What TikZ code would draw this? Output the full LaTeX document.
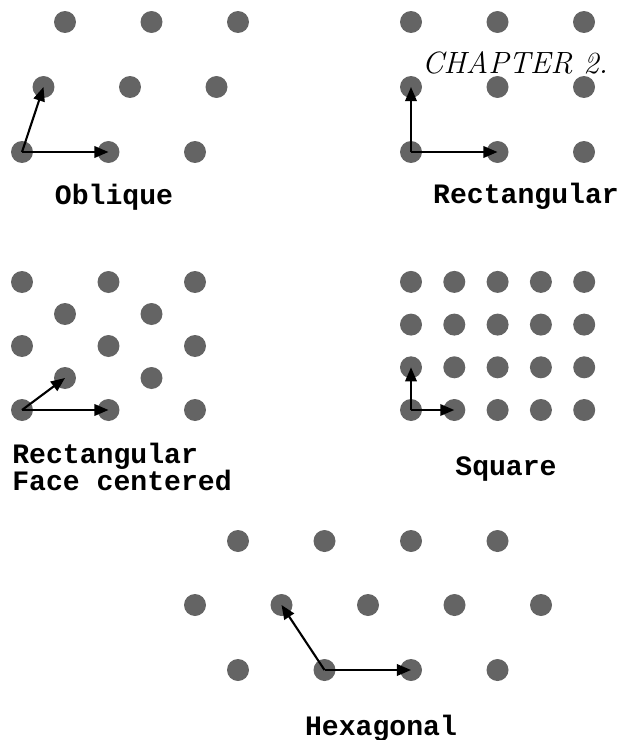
\documentclass[tikz,border=0pt]{standalone}
\usepackage{fontspec}
\setmonofont{Liberation Mono}
\usetikzlibrary{arrows.meta,positioning}
\definecolor{dotgray}{HTML}{646464}

\begin{document}
\begin{tikzpicture}[
    x=0.02cm, y=-0.02cm,
    >={Triangle[length=8pt,width=6.5pt]},
    site/.style={circle, fill=dotgray, inner sep=0pt, minimum size=0.44cm},
    vec/.style={->, line width=1.2pt, black},
    lbl/.style={font=\fontsize{16}{15}\selectfont\ttfamily\bfseries, inner sep=0pt},
]
\useasboundingbox (0,0) rectangle (623,740);

% Oblique
\foreach \r in {0,1,2}
  \foreach \c in {0,1,2}
    \node[site] (ob-\r-\c) at ({22+86.5*\c+21.5*\r},{152-65*\r}) {};
\draw[vec] (ob-0-0.center) -- (ob-0-1.center);
\draw[vec] (ob-0-0.center) -- (ob-1-0.center);
\node[lbl, anchor=base] (oblbl) at (114,204) {Oblique};

% Rectangular
\foreach \r in {0,1,2}
  \foreach \c in {0,1,2}
    \node[site] (re-\r-\c) at ({411+86.5*\c},{152-65*\r}) {};
\draw[vec] (re-0-0.center) -- (re-0-1.center);
\draw[vec] (re-0-0.center) -- (re-1-0.center);
\node[lbl, anchor=base] (relbl) at (526,203) {Rectangular};

% Face centered
\foreach \r in {0,2,4}
  \foreach \c in {0,1,2}
    \node[site] (fc-\r-\c) at ({22+86.5*\c},{410-32*\r}) {};
\foreach \r in {1,3}
  \foreach \c in {0,1}
    \node[site] (fc-\r-\c) at ({65+86.5*\c},{410-32*\r}) {};
\draw[vec] (fc-0-0.center) -- (fc-0-1.center);
\draw[vec] (fc-0-0.center) -- (fc-1-0.center);
\node[lbl, anchor=base west, align=left] (fclbl) at (12,490) {Rectangular\\Face centered};

% Square
\foreach \r in {0,...,3}
  \foreach \c in {0,...,4}
    \node[site] (sq-\r-\c) at ({411+43.3*\c},{410-42.7*\r}) {};
\draw[vec] (sq-0-0.center) -- (sq-0-1.center);
\draw[vec] (sq-0-0.center) -- (sq-1-0.center);
\node[lbl, anchor=base] (sqlbl) at (506,475) {Square};

% Hexagonal
\foreach \c in {0,...,3} {
  \node[site] (hx-0-\c) at ({238+86.5*\c},670) {};
  \node[site] (hx-2-\c) at ({238+86.5*\c},541) {};
}
\foreach \c in {0,...,4}
  \node[site] (hx-1-\c) at ({195+86.5*\c},605) {};
\draw[vec] (hx-0-1.center) -- (hx-0-2.center);
\draw[vec] (hx-0-1.center) -- (hx-1-1.center);
\node[lbl, anchor=base] (hxlbl) at (381,735) {Hexagonal};

% running head
\node[font=\fontsize{17.5}{20}\selectfont\itshape, anchor=base, inner sep=0pt] (head) at (515,73) {CHAPTER 2.};

\end{tikzpicture}
\end{document}
